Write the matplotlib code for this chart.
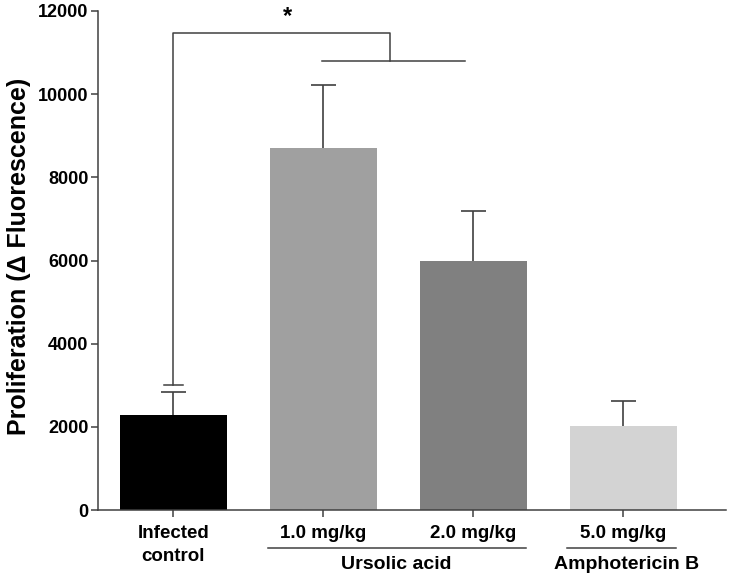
import numpy as np
import matplotlib
matplotlib.use("Agg")
import matplotlib.pyplot as plt

# datos
grupos = ["Infected\ncontrol", "1.0 mg/kg", "2.0 mg/kg", "5.0 mg/kg"]
medias = [2290, 8710, 5990, 2030]
errores = [550, 1510, 1200, 600]
colores = ["#000000", "#a0a0a0", "#808080", "#d3d3d3"]
y_ticks = [0, 2000, 4000, 6000, 8000, 10000, 12000]

plt.rcParams["font.family"] = ["Liberation Sans", "DejaVu Sans"]
plt.rcParams["font.weight"] = "bold"

fig = plt.figure(figsize=(7.29, 5.78), dpi=100)
ax = fig.add_axes([0.1344, 0.1176, 0.8616, 0.8634])

gris = "#404040"
x = np.arange(len(grupos))
ancho = 0.713
ax.bar(x, medias, width=ancho, color=colores, zorder=2)

# barras de error solo hacia arriba
tope = np.array(medias) + np.array(errores)
ax.vlines(x, medias, tope, color=gris, lw=1.2, zorder=3)
ax.hlines(tope, x - 0.083, x + 0.083, color=gris, lw=1.2, zorder=3)

# corchete de significancia
ax.plot([0, 0, 1.448, 1.448], [3000, 11480, 11480, 10800], color=gris, lw=1.1, zorder=1)
ax.plot([-0.063, 0.063], [3000, 3000], color=gris, lw=1.1)
ax.plot([0.99, 1.943], [10800, 10800], color=gris, lw=1.1)
ax.text(0.763, 11600, "*", ha="center", va="bottom", fontsize=17, fontweight="bold")

ax.set_xlim(-0.503, 3.687)
ax.set_ylim(0, 12000)
ax.set_yticks(y_ticks)
ax.set_yticklabels([str(v) for v in y_ticks], fontsize=13, fontweight="bold")
ax.set_xticks(x)
ax.set_xticklabels(grupos, fontsize=13.5, fontweight="bold", linespacing=1.45)
ax.tick_params(axis="both", direction="out", length=5, width=1.1, color=gris)
ax.tick_params(axis="y", pad=2)
ax.tick_params(axis="x", pad=6)

for lado in ["top", "right"]:
    ax.spines[lado].set_visible(False)
for lado in ["left", "bottom"]:
    ax.spines[lado].set_color(gris)
    ax.spines[lado].set_linewidth(1.1)

ax.set_ylabel("Proliferation (\u0394 Fluorescence)", fontsize=18, fontweight="bold")
ax.yaxis.set_label_coords(-0.107, 0.509)

# etiquetas de grupo debajo del eje
trans = ax.get_xaxis_transform()
ax.plot([0.63, 2.35], [-0.0762, -0.0762], color=gris, lw=1.1, transform=trans, clip_on=False)
ax.plot([2.623, 3.35], [-0.0762, -0.0762], color=gris, lw=1.1, transform=trans, clip_on=False)
ax.text(1.49, -0.110, "Ursolic acid", ha="center", va="center", fontsize=14,
        fontweight="bold", transform=trans)
ax.text(3.02, -0.110, "Amphotericin B", ha="center", va="center", fontsize=14,
        fontweight="bold", transform=trans)

fig.savefig("out.png", dpi=100)
